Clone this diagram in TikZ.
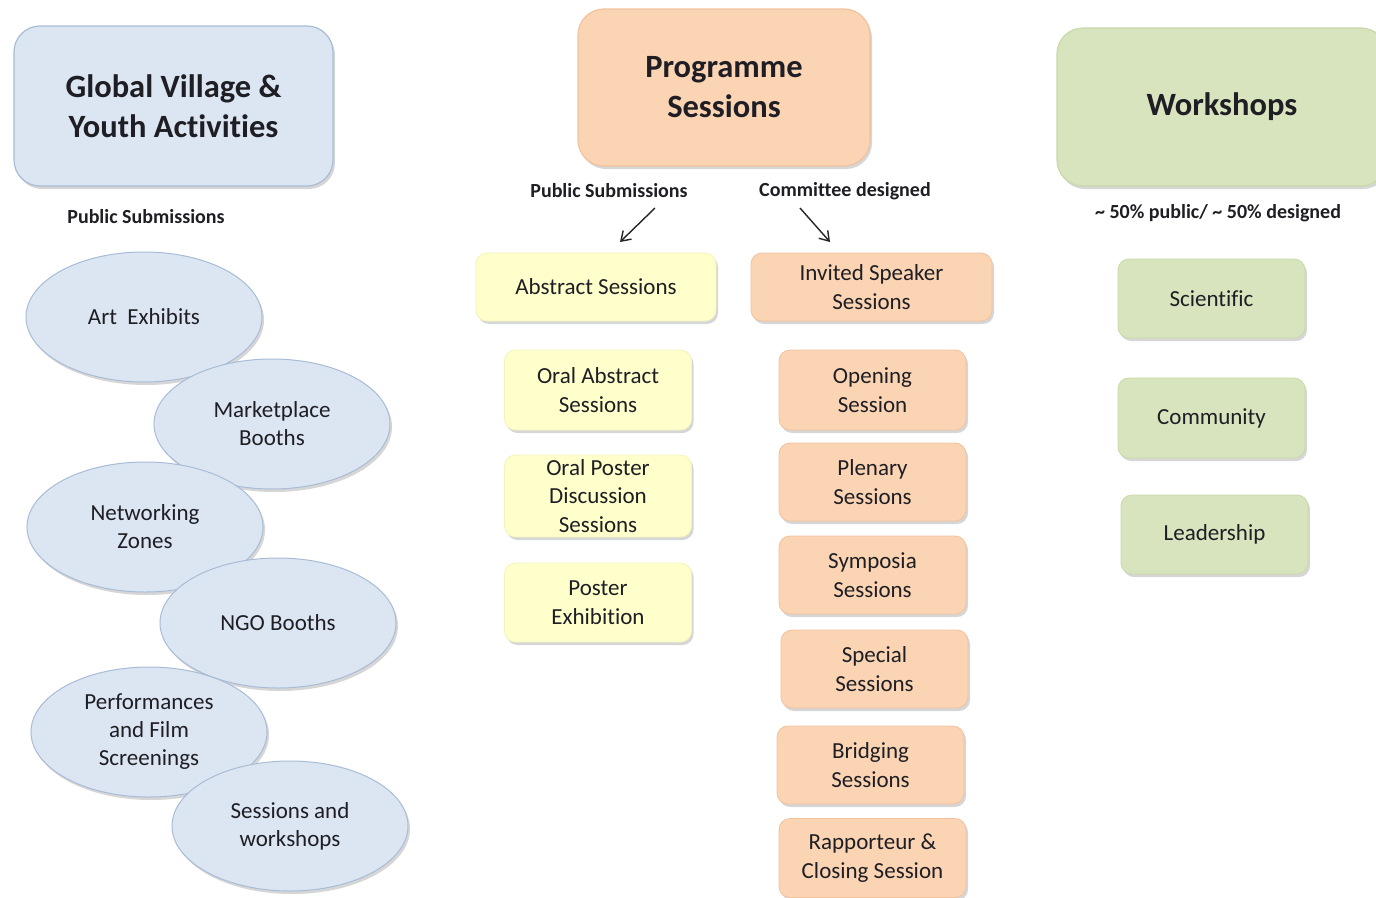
\documentclass[tikz,border=0pt]{standalone}
\usepackage{fontspec}
\setmainfont{Carlito}[Ligatures=NoCommon]
\usetikzlibrary{shapes.geometric,shadows,arrows.meta}
\definecolor{bluefill}{HTML}{DCE6F2}
\definecolor{blueline}{HTML}{A9BCD6}
\definecolor{peachfill}{HTML}{FBD4B4}
\definecolor{peachline}{HTML}{F2C29E}
\definecolor{yelfill}{HTML}{FFFFCC}
\definecolor{yelline}{HTML}{F3F3BC}
\definecolor{grnfill}{HTML}{D7E4BD}
\definecolor{grnline}{HTML}{C9D9AA}
\definecolor{txt}{HTML}{1E1E24}
\begin{document}
\begin{tikzpicture}[x=1pt,y=-1pt,
  every node/.style={text=txt},
  shad/.style={drop shadow={shadow xshift=2pt,shadow yshift=-3pt,opacity=0.35,fill=black!45}},
  bigbox/.style={draw,line width=1.2pt,rounded corners=26pt,shad,align=center,
     font=\fontsize{32.5}{40}\selectfont\bfseries,inner sep=0pt},
  smallbox/.style={draw,line width=0.8pt,rounded corners=11pt,shad,align=center,
     minimum width=187pt,minimum height=79pt,inner sep=0pt,font=\fontsize{23}{28.5}\selectfont},
  yel/.style={smallbox,fill=yelfill,draw=yelline},
  pch/.style={smallbox,fill=peachfill,draw=peachline},
  grn/.style={smallbox,fill=grnfill,draw=grnline},
  oval/.style={ellipse,draw=blueline,fill=bluefill,line width=1pt,shad,align=center,
     minimum width=236pt,minimum height=130pt,inner sep=0pt,font=\fontsize{23}{28}\selectfont},
  lab/.style={font=\fontsize{20}{24}\selectfont\bfseries,inner sep=0pt},
  arr/.style={-{Straight Barb[length=9pt,width=12pt]},line width=1.4pt,black!85}
]
\useasboundingbox[fill=white] (0,0) rectangle (1376,897);

% header boxes
\node[bigbox,fill=bluefill,draw=blueline,minimum width=319pt,minimum height=160pt] (gv) at (173.5,106) {Global Village \&\\Youth Activities};
\node[bigbox,fill=peachfill,draw=peachline,minimum width=292pt,minimum height=157pt] (ps) at (724,87.5) {Programme\\Sessions};
\node[bigbox,fill=grnfill,draw=grnline,minimum width=330pt,minimum height=158pt] (ws) at (1222,107) {Workshops};

% left column
\node[lab] (lps) at (146,217) {Public Submissions};
\node[oval] (e1) at (144,317) {Art\ \ Exhibits};
\node[oval] (e2) at (272,424) {Marketplace\\Booths};
\node[oval] (e3) at (145,527) {Networking\\Zones};
\node[oval] (e4) at (278,623) {NGO Booths};
\node[oval] (e5) at (149,732) {Performances\\and Film\\Screenings};
\node[oval] (e6) at (290,826) {Sessions and\\workshops};

% middle column
\node[lab] (mps) at (609,191) {Public Submissions};
\node[lab] (mcd) at (845,191) {Committee designed};
\node[yel,minimum width=240pt,minimum height=68pt] (abs) at (596,287) {Abstract Sessions};
\node[pch,minimum width=241pt,minimum height=68pt] (inv) at (871.5,287) {Invited Speaker\\Sessions};
\coordinate (a1s) at (655,208); \coordinate (a1e) at (620,242);
\coordinate (a2s) at (800,208); \coordinate (a2e) at (830,242);
\draw[arr] (a1s) -- (a1e);
\draw[arr] (a2s) -- (a2e);

\node[yel,minimum height=80pt] (oas) at (598,390) {Oral Abstract\\Sessions};
\node[yel,minimum height=82pt] (opd) at (598,496) {Oral Poster\\Discussion\\Sessions};
\node[yel,minimum height=79pt] (pex) at (598,602.5) {Poster\\Exhibition};

\node[pch,minimum height=80pt] (ope) at (872.5,390) {Opening\\Session};
\node[pch,minimum height=78pt] (ple) at (872.5,482) {Plenary\\Sessions};
\node[pch,minimum height=78pt] (sym) at (872.5,575) {Symposia\\Sessions};
\node[pch,minimum height=78pt] (spe) at (874.5,669) {Special\\Sessions};
\node[pch,minimum height=78pt] (bri) at (870.5,765) {Bridging\\Sessions};
\node[pch,minimum height=79pt] (rap) at (872.5,858) {Rapporteur \&\\Closing Session};

% right column
\node[lab] (rlab) at (1218,213) {\textasciitilde\ 50\% public/ \textasciitilde\ 50\% designed};
\node[grn] (sci) at (1211.5,298.5) {Scientific};
\node[grn,minimum height=80pt] (com) at (1211.5,418) {Community};
\node[grn] (lea) at (1214.5,534.5) {Leadership};
\end{tikzpicture}
\end{document}
